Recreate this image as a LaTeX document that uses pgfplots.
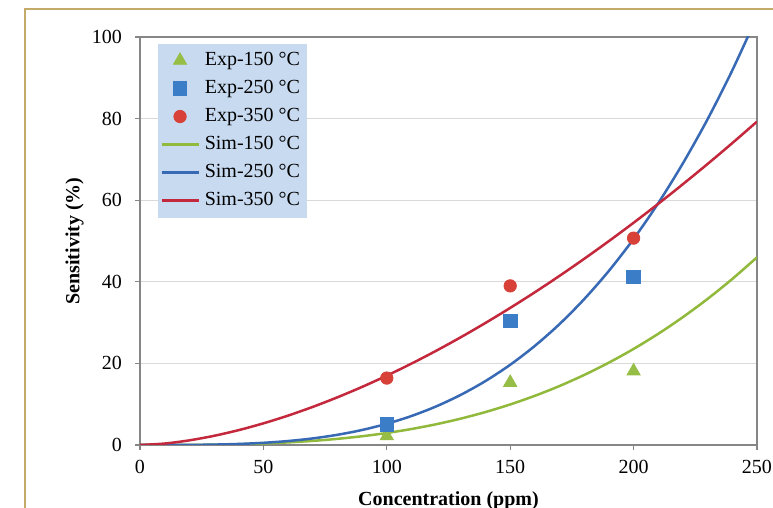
\documentclass[border=0pt]{standalone}
\usepackage{fontspec}
\setmainfont{Liberation Serif}
\usepackage{pgfplots}
\pgfplotsset{compat=1.18}

\definecolor{simgreen}{RGB}{145,185,60}
\definecolor{simblue}{RGB}{55,105,180}
\definecolor{simred}{RGB}{195,40,60}
\definecolor{expgreen}{RGB}{150,190,70}
\definecolor{expblue}{RGB}{60,125,200}
\definecolor{expred}{RGB}{215,65,55}
\definecolor{legendblue}{RGB}{200,218,240}
\definecolor{gridgray}{RGB}{217,217,217}
\definecolor{framegray}{RGB}{134,134,134}
\definecolor{framegold}{RGB}{196,170,105}

\begin{document}
\begin{tikzpicture}[font=\fontsize{10}{12}\selectfont]
\useasboundingbox (0pt,0pt) rectangle (386.5pt,254pt);
\clip (0pt,0pt) rectangle (386.5pt,254pt);
\fill[white] (0pt,0pt) rectangle (386.5pt,254pt);
\draw[framegold, line width=1.2pt] (12.5pt,-20pt) rectangle (420pt,249.5pt);
\begin{axis}[
  at={(70pt,31.5pt)}, anchor=south west,
  scale only axis, width=308.5pt, height=204pt,
  xmin=0, xmax=250, ymin=0, ymax=100,
  xtick={0,50,...,250}, ytick={0,20,...,100},
  xtick pos=left, ytick pos=left,
  tick align=outside, major tick length=2.5pt,
  axis line style={framegray, line width=0.6pt},
  tick style={framegray, line width=0.6pt},
  ymajorgrids, grid style={gridgray, line width=0.6pt},
  /pgf/number format/assume math mode=true,
  yticklabel style={xshift=-3pt},
  xticklabel style={yshift=-1.7pt},
  xlabel={\bfseries Concentration (ppm)},
  ylabel={\bfseries Sensitivity (\%)},
  xlabel style={at={(axis description cs:0.5,0)}, anchor=north, yshift=-20pt},
  ylabel style={at={(axis description cs:-0.080,0.5)}, anchor=south},
  legend cell align=left,
  legend style={at={(0.029,0.985)}, anchor=north west, fill=legendblue, draw=none,
    inner xsep=1pt, inner ysep=1.5pt, row sep=0pt,
    nodes={inner sep=2.5pt, text height=7pt, text depth=2pt}},
  legend image code/.code={\draw[mark repeat=2,mark phase=2,#1] plot coordinates {(0pt,0pt)(9.25pt,0pt)(18.5pt,0pt)};},
]
\addplot[only marks, mark=triangle*, mark size=3.8pt, draw=expgreen, fill=expgreen]
  coordinates {(100,2.2) (150,15.3) (200,18.1)};
\addlegendentry{Exp-150 °C}
\addplot[only marks, mark=square*, mark size=3.4pt, draw=expblue, fill=expblue]
  coordinates {(100,5.0) (150,30.4) (200,41.2)};
\addlegendentry{Exp-250 °C}
\addplot[only marks, mark=*, mark size=3.1pt, draw=expred, fill=expred]
  coordinates {(100,16.4) (150,39.0) (200,50.7)};
\addlegendentry{Exp-350 °C}
\addplot[simgreen, line width=1.25pt, no marks, smooth] coordinates {
  (0,0) (10,0.003) (20,0.024) (30,0.079) (40,0.188) (50,0.368) (60,0.636)
  (70,1.010) (80,1.507) (90,2.146) (100,2.944) (110,3.918) (120,5.087)
  (130,6.468) (140,8.078) (150,9.936) (160,12.06) (170,14.46) (180,17.17)
  (190,20.19) (200,23.55) (210,27.26) (220,31.35) (230,35.82) (240,40.70) (250,46.0)};
\addlegendentry{Sim-150 °C}
\addplot[simblue, line width=1.25pt, no marks, smooth] coordinates {
  (0,0) (10,0.003) (20,0.027) (30,0.100) (40,0.257) (50,0.535) (60,0.973)
  (70,1.614) (80,2.501) (90,3.680) (100,5.20) (110,7.108) (120,9.456)
  (130,12.30) (140,15.68) (150,19.66) (160,24.30) (170,29.64) (180,35.76)
  (190,42.69) (200,50.51) (210,59.28) (220,69.06) (230,79.87) (240,91.84) (250,105.0)};
\addlegendentry{Sim-250 °C}
\addplot[simred, line width=1.25pt, no marks, smooth] coordinates {
  (0,0) (10,0.355) (20,1.138) (30,2.249) (40,3.646) (50,5.306) (60,7.207)
  (70,9.338) (80,11.69) (90,14.24) (100,17.0) (110,19.95) (120,23.09)
  (130,26.42) (140,29.92) (150,33.60) (160,37.44) (170,41.46) (180,45.64)
  (190,49.98) (200,54.47) (210,59.12) (220,63.94) (230,68.89) (240,74.00) (250,79.26)};
\addlegendentry{Sim-350 °C}
\end{axis}
\end{tikzpicture}
\end{document}
